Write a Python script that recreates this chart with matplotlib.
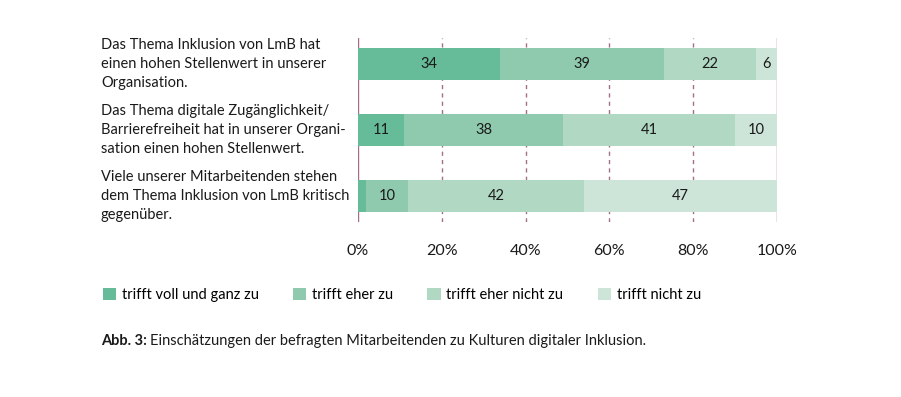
import matplotlib
matplotlib.use("Agg")
import matplotlib.pyplot as plt
import numpy as np

# statements (top to bottom)
statements = [
    "Das Thema Inklusion von LmB hat\neinen hohen Stellenwert in unserer\nOrganisation.",
    "Das Thema digitale Zugänglichkeit/\nBarrierefreiheit hat in unserer Organi-\nsation einen hohen Stellenwert.",
    "Viele unserer Mitarbeitenden stehen\ndem Thema Inklusion von LmB kritisch\ngegenüber.",
]
categories = ["trifft voll und ganz zu", "trifft eher zu", "trifft eher nicht zu", "trifft nicht zu"]
voll = [34, 11, 2]
eher = [39, 38, 10]
eher_nicht = [22, 41, 42]
nicht = [6, 10, 47]
colors = ["#66BB98", "#8FCAAE", "#B0D8C3", "#CDE5D8"]
xticks = [0, 20, 40, 60, 80, 100]

plt.rcParams['font.family'] = ['Lato', 'DejaVu Sans']
txt_col = '#1a1a1a'

fig = plt.figure(figsize=(9.01, 3.97), dpi=100)
ax = fig.add_axes([358/901, 1 - 222/397, (777 - 358)/901, (222 - 38)/397])

y = np.arange(len(statements))
series = [voll, eher, eher_nicht, nicht]
left = np.zeros(len(statements))
grid_col = "#A0708A"

# gridlines behind bars
for t in xticks:
    ls = '-' if t in (0, 100) else (0, (3, 3))
    ax.axvline(t, color=grid_col, lw=1, ls=ls, zorder=0)

for vals, col, name in zip(series, colors, categories):
    vals = np.array(vals, dtype=float)
    ax.barh(y, vals, left=left, height=0.485, color=col, label=name, zorder=2)
    for yi, (l, v) in enumerate(zip(left, vals)):
        if v >= 5:
            cx = (l + min(l + v, 100)) / 2
            ax.text(cx, yi, f"{int(v)}", ha='center', va='center', fontsize=10.5,
                    color=txt_col, zorder=3)
    left += vals

ax.set_xlim(0, 100)
ax.set_ylim(2.394, -0.394)
ax.set_xticks(xticks)
ax.set_xticklabels([f"{t}%" for t in xticks], fontsize=11.5, color=txt_col)
ax.tick_params(axis='x', length=0, pad=16)
ax.set_yticks([])
for s in ax.spines.values():
    s.set_visible(False)

# statement labels, left edge fixed in figure coords
x_lab = ax.transData.inverted().transform(fig.transFigure.transform((101/901, 0)))[0]
for yi, s in zip(y, statements):
    ax.text(x_lab, yi, s, ha='left', va='center', fontsize=10.5, linespacing=1.48,
            color=txt_col, clip_on=False)

leg = fig.legend(loc='upper left', bbox_to_anchor=(97/901, 1 - 282/397), ncol=4,
                 frameon=False, fontsize=10.5, handlelength=0.9, handleheight=0.9,
                 handletextpad=0.4, columnspacing=2.35, borderaxespad=0)

fig.canvas.draw()
t1 = fig.text(101/901, 1 - 341/397, "Abb. 3:", fontsize=10.5, fontweight='bold',
              va='center', ha='left', color=txt_col)
fig.canvas.draw()
bb = t1.get_window_extent()
fig.text(bb.x1 / fig.bbox.width + 3/901, 1 - 341/397,
         "Einschätzungen der befragten Mitarbeitenden zu Kulturen digitaler Inklusion.",
         fontsize=10.5, va='center', ha='left', color=txt_col)

fig.savefig("out.png", dpi=100)
